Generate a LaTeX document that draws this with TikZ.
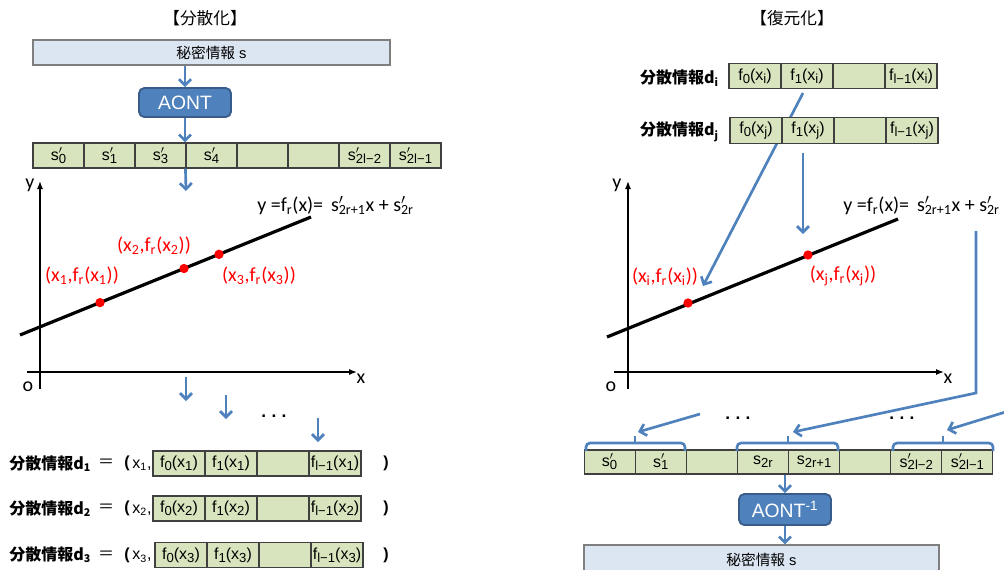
\documentclass[tikz,border=0pt]{standalone}
\usepackage{fontspec}
\usepackage{graphicx}
\setmainfont{Liberation Sans}
\newfontfamily\cjk{Noto Sans CJK JP}
\newfontfamily\calfont{Carlito}
\usetikzlibrary{arrows.meta}
\definecolor{ablue}{HTML}{4F81BD}
\definecolor{aontdark}{HTML}{385D8A}
\definecolor{cellg}{HTML}{D7E4BD}
\definecolor{secfill}{HTML}{DCE6F2}
\definecolor{secdraw}{HTML}{7F7F7F}
\definecolor{celldraw}{HTML}{404040}
\newcommand\sbs[1]{\raisebox{-0.35ex}{\scalebox{0.82}{#1}}}
\newcommand\spr[1]{s\rlap{\raisebox{0.15ex}{$^{\prime}$}}\sbs{#1}}
\newcommand\sprc[1]{s\rlap{$^{\prime}$}\textsubscript{#1}}
\newcommand\fxx[2]{f\sbs{#1}(x\sbs{#2})}
\newcommand\ptlab[1]{(x\textsubscript{#1},f\textsubscript{r}(x\textsubscript{#1}))}
\newcommand\dlab[1]{{\cjk\bfseries 分散情報d\textsubscript{#1}}}
\begin{document}
\begin{tikzpicture}[x=0.75pt,y=-0.75pt,
 cell/.style={draw=celldraw,fill=cellg,line width=0.8pt,minimum width=38.25pt,minimum height=18.75pt,inner sep=0pt,font=\fontsize{12}{14}\selectfont},
 dcell/.style={cell,minimum width=39pt,font=\fontsize{12}{14}\selectfont},
 secret/.style={draw=secdraw,fill=secfill,line width=0.8pt,inner sep=0pt,font=\fontsize{11}{13}\selectfont},
 aont/.style={draw=aontdark,fill=ablue,line width=1.4pt,rounded corners=4pt,text=white,minimum width=69pt,inner sep=0pt,font=\fontsize{14.5}{16}\selectfont},
 barrow/.style={draw=ablue,line width=2pt,-{Straight Barb[length=4.5pt,width=9pt]}},
 brace/.style={draw=ablue,line width=2pt,rounded corners=3pt},
 axis/.style={line width=1pt,-{Latex[length=6pt,width=4.5pt]}},
 fline/.style={line width=2.4pt},
 dot/.style={circle,fill=red,inner sep=0pt,minimum size=7pt},
 rlab/.style={text=red,font=\calfont\fontsize{15}{17}\selectfont,inner sep=0pt},
 eq/.style={font=\calfont\fontsize{15}{17}\selectfont,inner sep=0pt},
 title/.style={font=\cjk\fontsize{12.5}{14}\selectfont,inner sep=0pt},
 dlabel/.style={font=\fontsize{12}{14}\selectfont,inner sep=0pt},
 dots/.style={font=\bfseries\fontsize{13}{14}\selectfont,inner sep=0pt}
 ]
\useasboundingbox (0,0) rectangle (1004,569);
\clip (0,0) rectangle (1004,569);

% ================= LEFT: 分散化 =================
\node[title] (lt) at (205,18) {【分散化】};
\node[secret,minimum width=267.75pt,minimum height=18.75pt] (ls) at (211.5,52.5) {{\cjk 秘密情報} s};
\node[aont,minimum height=21.75pt] (la) at (185,102.5) {AONT};
\foreach \i/\t in {0/{\spr{0}},1/{\spr{1}},2/{\spr{3}},3/{\spr{4}},4/{},5/{},6/{\spr{2l−2}},7/{\spr{2l−1}}}
  \node[cell] (l\i) at ({58.5+51*\i},155.5) {\t};
\draw[barrow] (la.north |- ls.south) -- (la.north);
\draw[barrow] (la.south) -- (la.south |- l3.north);
\coordinate (lg) at (186,191);
\draw[barrow] (l3.south west) -- (lg);

% graph
\coordinate (lxo) at (27,372); \coordinate (lxe) at (357,372);
\coordinate (lyo) at (40,389); \coordinate (lye) at (40,181);
\draw[axis] (lxo) -- (lxe);
\draw[axis] (lyo) -- (lye);
\node[eq] (lxl) at (361,379) {x};
\node[eq] (lyl) at (30,185) {y};
\node[eq] (lol) at (28,387) {o};
\coordinate (lf1) at (20,335); \coordinate (lf2) at (311,217);
\draw[fline] (lf1) -- (lf2);
\node[dot] (p1) at (100,302.6) {};
\node[dot] (p2) at (184,268.5) {};
\node[dot] (p3) at (219,254.3) {};
\node[rlab] (pl1) at (82,276) {\ptlab{1}};
\node[rlab] (pl2) at (154,246) {\ptlab{2}};
\node[rlab] (pl3) at (259,276) {\ptlab{3}};
\node[eq,anchor=west] (leq) at (257,206) {y =f\textsubscript{r}(x)=\, \sprc{2r+1}x + \sprc{2r}};

% arrows to shares
\coordinate (a1s) at (186,377); \coordinate (a1e) at (186,401);
\coordinate (a2s) at (226,395); \coordinate (a2e) at (226,419);
\coordinate (a3s) at (318,418); \coordinate (a3e) at (318,442);
\draw[barrow] (a1s) -- (a1e);
\draw[barrow] (a2s) -- (a2e);
\draw[barrow] (a3s) -- (a3e);
\node[dots] (ld) at (274,416) {.\hspace{4pt}.\hspace{4pt}.};

% shares
\foreach \k/\y/\dx in {1/463.5/0,2/508.5/0,3/555/2} {
  \node[dlabel,anchor=west] (dl\k) at (9,\y) {\dlab{\k}};
  \node[dlabel] (deq\k) at (106,\y) {{\cjk ＝}};
  \node[dlabel] (dop\k) at (127,\y) {\bfseries (};
  \node[dlabel] (dx\k) at (142,\y+2) {x\textsubscript{\k},};
  \node[dcell] (d\k-0) at (179+\dx,\y) {\fxx{0}{\k}};
  \node[dcell] (d\k-1) at (231+\dx,\y) {\fxx{1}{\k}};
  \node[dcell] (d\k-2) at (283+\dx,\y) {};
  \node[dcell] (d\k-3) at (335+\dx,\y) {\fxx{l−1}{\k}};
  \node[dlabel] (dcp\k) at (386,\y) {\bfseries )};
}

% ================= RIGHT: 復元化 =================
\node[title] (rt) at (792,18) {【復元化】};
\coordinate (si) at (803,93); \coordinate (ti) at (703,286);
\draw[barrow] (si) -- (ti);
\node[dlabel,anchor=east] (dli) at (719,78) {\dlab{i}};
\node[dlabel,anchor=east] (dlj) at (719,132) {\dlab{j}};
\node[dcell] (ri-0) at (755,76) {\fxx{0}{i}};
\node[dcell] (ri-1) at (807,76) {\fxx{1}{i}};
\node[dcell] (ri-2) at (859,76) {};
\node[dcell] (ri-3) at (911,76) {\fxx{l−1}{i}};
\node[dcell,minimum height=20pt] (rj-0) at (756,130.5) {\fxx{0}{j}};
\node[dcell,minimum height=20pt] (rj-1) at (808,130.5) {\fxx{1}{j}};
\node[dcell,minimum height=20pt] (rj-2) at (860,130.5) {};
\node[dcell,minimum height=20pt] (rj-3) at (912,130.5) {\fxx{l−1}{j}};
\coordinate (sj) at (803,153); \coordinate (tj) at (803,234);
\draw[barrow] (sj) -- (tj);

% graph
\coordinate (rxo) at (614,372); \coordinate (rxe) at (944,372);
\coordinate (ryo) at (628,389); \coordinate (rye) at (628,181);
\draw[axis] (rxo) -- (rxe);
\draw[axis] (ryo) -- (rye);
\node[eq] (rxl) at (948,379) {x};
\node[eq] (ryl) at (617,185) {y};
\node[eq] (rol) at (611,387) {o};
\coordinate (rf1) at (607,337); \coordinate (rf2) at (898,219);
\draw[fline] (rf1) -- (rf2);
\node[dot] (pi) at (688,303) {};
\node[dot] (pj) at (808,255) {};
\node[rlab] (pli) at (665,277) {\ptlab{i}};
\node[rlab] (plj) at (843,276) {\ptlab{j}};
\node[eq,anchor=west] (req) at (843,206) {y =f\textsubscript{r}(x)=\, \sprc{2r+1}x + \sprc{2r}};

% row of recovered pieces
\foreach \i/\t in {0/{\spr{0}},1/{\spr{1}},2/{},3/{s\sbs{2r}},4/{s\sbs{2r+1}},5/{},6/{\spr{2l−2}},7/{\spr{2l−1}}}
  \node[cell,minimum height=18pt] (r\i) at ({609.56+51.125*\i},462) {\t};

% braces
\draw[brace] (586,451) -- (586,443) -- (685,443) -- (685,451);
\draw[brace] (737,451) -- (737,443) -- (838,443) -- (838,451);
\draw[brace] (893,451) -- (893,443) -- (993,443) -- (993,451);
\coordinate (b1) at (635,443); \coordinate (b1t) at (635,436);
\coordinate (b2) at (788,443); \coordinate (b2t) at (788,436);
\coordinate (b3) at (943,443); \coordinate (b3t) at (943,436);
\draw[ablue,line width=2pt] (b1) -- (b1t);
\draw[ablue,line width=2pt] (b2) -- (b2t);
\draw[ablue,line width=2pt] (b3) -- (b3t);

\coordinate (c1) at (976,231); \coordinate (c2) at (976,393);
\coordinate (t2) at (793,432);
\draw[barrow] (c1) -- (c2) -- (t2);
\coordinate (c3) at (700,414); \coordinate (t1) at (638,432);
\draw[barrow] (c3) -- (t1);
\coordinate (c4) at (1012,410); \coordinate (t3) at (947,430);
\draw[barrow] (c4) -- (t3);
\node[dots] (rd1) at (738,418) {.\hspace{4pt}.\hspace{4pt}.};
\node[dots] (rd2) at (902,418) {.\hspace{4pt}.\hspace{4pt}.};

\node[aont,minimum height=23.25pt] (ra) at (785,509.5) {AONT\textsuperscript{-1}};
\node[secret,minimum width=266.25pt,minimum height=27pt] (rs) at (761.5,563) {};
\node[secret,draw=none,fill=none] (rst) at (761.5,559.5) {{\cjk 秘密情報} s};
\draw[barrow] (ra.north |- r4.south) -- (ra.north);
\draw[barrow] (ra.south) -- (ra.south |- rs.north);
\end{tikzpicture}
\end{document}
